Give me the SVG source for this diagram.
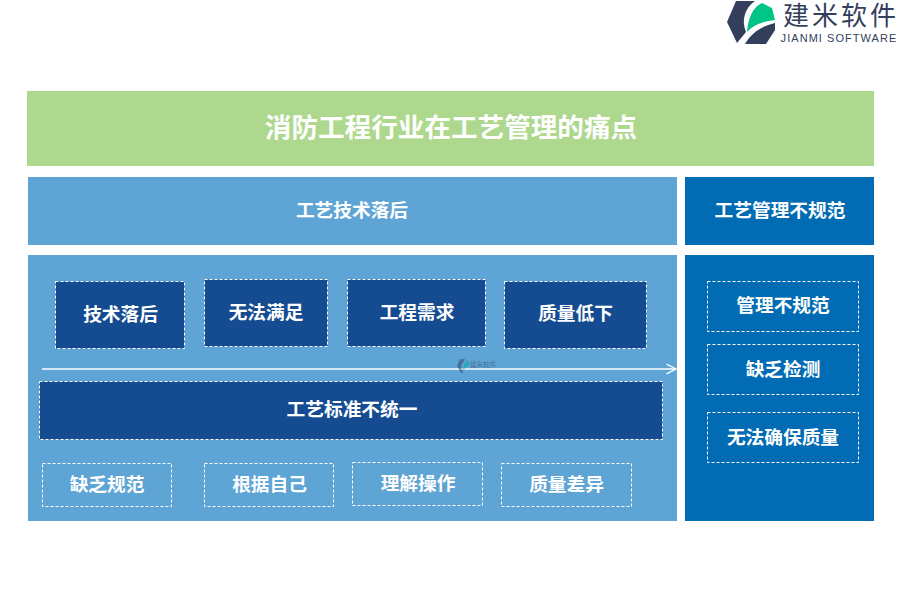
<svg xmlns="http://www.w3.org/2000/svg" width="900" height="600" viewBox="0 0 900 600">
<defs>
<marker id="arr" markerUnits="userSpaceOnUse" markerWidth="12" markerHeight="12" refX="10.5" refY="6" orient="auto"><path d="M1 1.2L10.500 6L1 10.800" fill="none" stroke="#fff" stroke-width="1.300"/></marker>
</defs>
<style>
text{font-family:"Noto Sans CJK SC","Liberation Sans",sans-serif;font-weight:700;fill:#fff;text-anchor:middle}
.t{font-size:18.700px}
.dark{fill:#154c91;stroke:#fff;stroke-width:1;stroke-dasharray:3 2}
.out{fill:none;stroke:#fff;stroke-width:1;stroke-dasharray:3 2}
.lb{fill:#5ea4d5}.db{fill:#016cb4}
</style>
<rect width="900" height="600" fill="#fff"/>
<g id="logo">
<path d="M736 1H755C745 8 741 20 746 32L737 43L727 22Z" fill="#343f5d"/>
<path d="M747 32C748 18 753 7 762 3L772 8L775 20C764 21 753 25 747 32Z" fill="#00c586"/>
<path d="M745 44C751 33 762 26 775 23V30L766 44Z" fill="#343f5d"/>
<text x="841" y="25" style="font-size:26px;font-weight:400;fill:#343f5d;letter-spacing:3px">建米软件</text>
<text x="839" y="42" style="font-size:11px;font-weight:400;fill:#343f5d;letter-spacing:1.050px;font-family:'Liberation Sans',sans-serif">JIANMI SOFTWARE</text>
</g>
<g id="title"><rect x="27" y="91" width="847" height="75" fill="#add88e"/><text x="451" y="137" style="font-size:26.600px">消防工程行业在工艺管理的痛点</text></g>
<g id="header-left"><rect x="28" y="177" width="649" height="68" class="lb"/><text class="t" x="352" y="217">工艺技术落后</text></g>
<g id="header-right"><rect x="685" y="177" width="189" height="68" class="db"/><text class="t" x="780" y="217">工艺管理不规范</text></g>
<g id="panel-left"><rect x="28" y="255" width="649" height="266" class="lb"/></g>
<g id="panel-right"><rect x="685" y="255" width="189" height="266" class="db"/></g>
<g id="connectors"><line x1="42" y1="369" x2="676" y2="369" stroke="#fff" stroke-width="1.500" marker-end="url(#arr)"/></g>
<g id="watermark" opacity=".5">
<path d="M460 359H465L461 366L463 373H461L457 366Z" fill="#343f5d"/>
<path d="M463 371C463 365 465 361 468 360L470 365C467 366 465 368 463 371Z" fill="#00a6a0"/>
<text x="483" y="367" style="font-size:6.500px;font-weight:400;fill:#343f5d">建米软件</text>
</g>
<g id="n1"><rect x="55.500" y="281.500" width="129" height="67" class="dark"/><text class="t" x="120.500" y="321">技术落后</text></g>
<g id="n2"><rect x="204.500" y="279.500" width="123" height="67" class="dark"/><text class="t" x="266" y="319">无法满足</text></g>
<g id="n3"><rect x="347.500" y="279.500" width="138" height="67" class="dark"/><text class="t" x="417" y="319">工程需求</text></g>
<g id="n4"><rect x="504.500" y="281.500" width="142" height="67" class="dark"/><text class="t" x="575.500" y="320">质量低下</text></g>
<g id="n5"><rect x="39.500" y="381.500" width="623" height="58" class="dark"/><text class="t" x="352" y="416">工艺标准不统一</text></g>
<g id="n6"><rect x="42.500" y="463.500" width="129" height="43" class="out"/><text class="t" x="107" y="491">缺乏规范</text></g>
<g id="n7"><rect x="204.500" y="463.500" width="129" height="43" class="out"/><text class="t" x="269.500" y="491">根据自己</text></g>
<g id="n8"><rect x="352.500" y="462.500" width="130" height="43" class="out"/><text class="t" x="418" y="490">理解操作</text></g>
<g id="n9"><rect x="501.500" y="463.500" width="130" height="43" class="out"/><text class="t" x="566.500" y="491">质量差异</text></g>
<g id="n10"><rect x="707.500" y="281.500" width="151" height="50" class="out"/><text class="t" x="783" y="312">管理不规范</text></g>
<g id="n11"><rect x="707.500" y="344.500" width="151" height="50" class="out"/><text class="t" x="783" y="376">缺乏检测</text></g>
<g id="n12"><rect x="707.500" y="412.500" width="151" height="50" class="out"/><text class="t" x="783" y="444">无法确保质量</text></g>
</svg>
